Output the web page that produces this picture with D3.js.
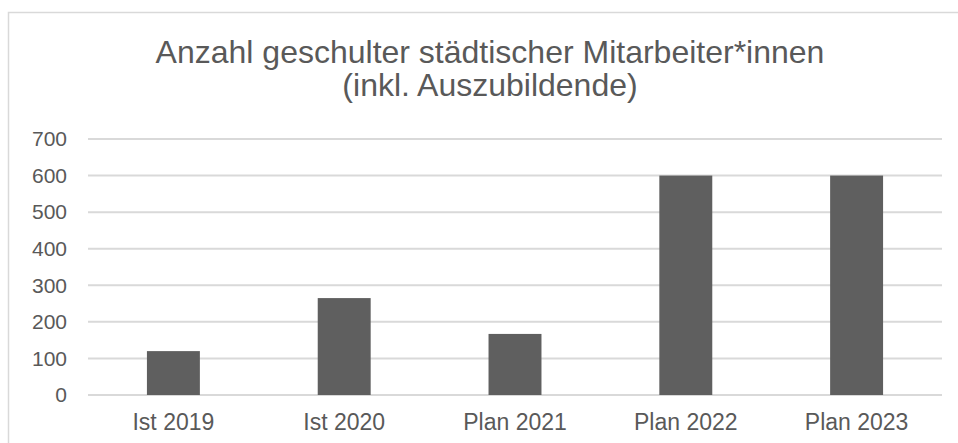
<!DOCTYPE html>
<meta charset="utf-8">
<style>

body {
  margin: 0;
  background: #fff;
  font-family: "Liberation Sans", Arial, sans-serif;
}

.grid line {
  stroke: #d9d9d9;
  stroke-width: 2px;
}

.tick text {
  fill: #595959;
}

</style>
<body>
    <div class='canvas'></div>
</body>
<script src="https://cdn.jsdelivr.net/npm/d3@7"></script>
<script>

var categories = ["Ist 2019", "Ist 2020", "Plan 2021", "Plan 2022", "Plan 2023"],
    values = [120, 265, 167, 600, 600],
    yTicks = [0, 100, 200, 300, 400, 500, 600, 700],
    titleLines = ["Anzahl geschulter städtischer Mitarbeiter*innen", "(inkl. Auszubildende)"];

var w = 958,
    h = 443;

var svg = d3.select(".canvas").append("svg")
    .attr("width", w)
    .attr("height", h);

// chart frame (cut off at right and bottom like in the screenshot)
svg.append("rect")
    .attr("x", 8.5)
    .attr("y", 12.5)
    .attr("width", 1000)
    .attr("height", 1000)
    .style("fill", "none")
    .style("stroke", "#d9d9d9")
    .style("stroke-width", 1.5);

var x = d3.scaleBand()
    .domain(categories)
    .range([88, 942])
    .paddingInner(0.69)
    .paddingOuter(0.345);

var y = d3.scaleLinear()
    .domain([0, 700])
    .range([395, 139]);

svg.append("g")
    .attr("class", "grid")
    .selectAll("line")
    .data(yTicks)
  .enter().append("line")
    .attr("x1", 88)
    .attr("x2", 942)
    .attr("y1", function(d) { return y(d); })
    .attr("y2", function(d) { return y(d); });

svg.selectAll("rect.bar")
    .data(values)
  .enter().append("rect")
    .attr("class", "bar")
    .attr("x", function(d, i) { return x(categories[i]); })
    .attr("y", function(d) { return y(d); })
    .attr("width", x.bandwidth())
    .attr("height", function(d) { return y(0) - y(d); })
    .style("fill", "#5f5f5f");

var yAxis = svg.append("g")
    .attr("transform", "translate(88,0)")
    .call(d3.axisLeft(y).tickValues(yTicks).tickSize(0).tickPadding(21));
yAxis.select(".domain").remove();
yAxis.selectAll("text")
    .style("font-size", "21px")
    .style("font-family", "Liberation Sans, Arial, sans-serif");

var xAxis = svg.append("g")
    .attr("transform", "translate(0,395)")
    .call(d3.axisBottom(x).tickSize(0).tickPadding(19));
xAxis.select(".domain").remove();
xAxis.selectAll("text")
    .style("font-size", "23px")
    .style("font-family", "Liberation Sans, Arial, sans-serif");

svg.selectAll("text.title")
    .data(titleLines)
  .enter().append("text")
    .attr("class", "title")
    .attr("x", 490)
    .attr("y", function(d, i) { return 62.5 + i * 33.5; })
    .attr("text-anchor", "middle")
    .style("font-size", "32px")
    .style("fill", "#595959")
    .text(function(d) { return d; });

</script>
